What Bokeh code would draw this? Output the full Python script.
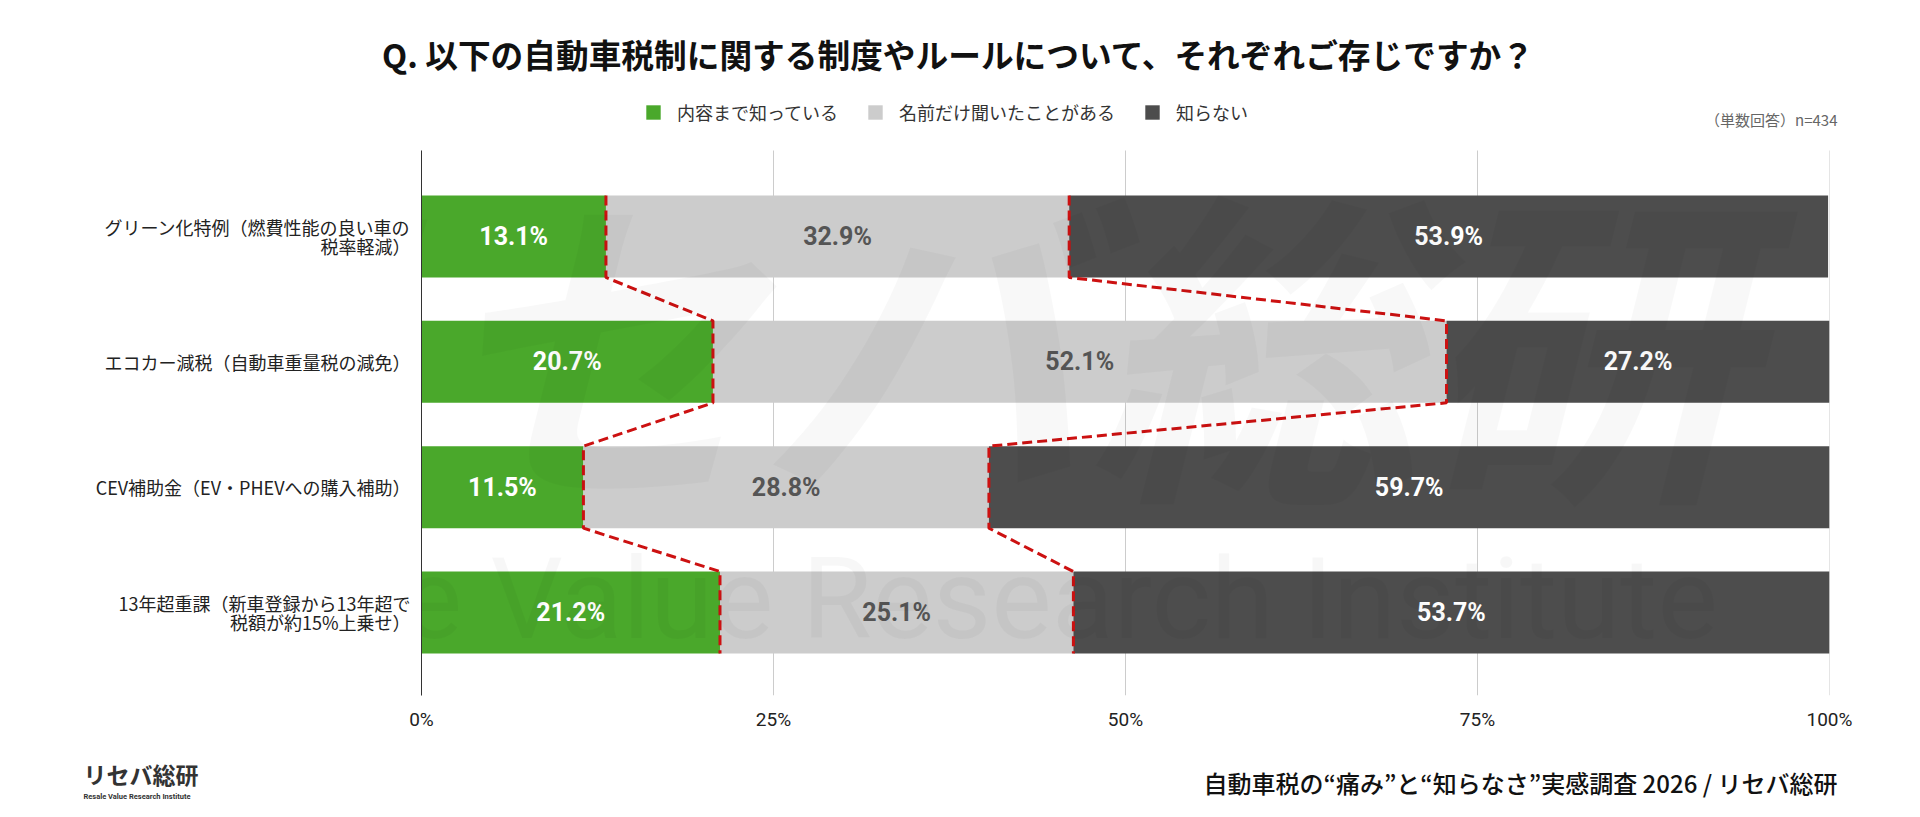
from bokeh.plotting import figure
from bokeh.models import Range1d, FixedTicker, Label, Legend, LegendItem, ColumnDataSource
from bokeh.core.properties import value
from bokeh.embed import file_html
from bokeh.resources import INLINE

# ---------------- data ----------------
categories = [
    "グリーン化特例（燃費性能の良い車の\n税率軽減）",
    "エコカー減税（自動車重量税の減免）",
    "CEV補助金（EV・PHEVへの購入補助）",
    "13年超重課（新車登録から13年超で\n税額が約15%上乗せ）",
]
know_detail = [13.1, 20.7, 11.5, 21.2]   # 内容まで知っている
name_only = [32.9, 52.1, 28.8, 25.1]     # 名前だけ聞いたことがある
dont_know = [53.9, 27.2, 59.7, 53.7]     # 知らない
series_names = ["内容まで知っている", "名前だけ聞いたことがある", "知らない"]
x_ticks = [0, 25, 50, 75, 100]
x_tick_labels = ["0%", "25%", "50%", "75%", "100%"]

title_text = "Q. 以下の自動車税制に関する制度やルールについて、それぞれご存じですか？"
note_text = "（単数回答）n=434"
footer_text = "自動車税の“痛み”と“知らなさ”実感調査 2026 / リセバ総研"
logo_text = "リセバ総研"
logo_sub = "Resale Value Research Institute"

# ---------------- style ----------------
COLORS = ["#4aa82b", "#cccccc", "#4d4d4d"]
LABEL_COLORS = ["#ffffff", "#555555", "#ffffff"]
RED = "#cc1111"
BAR_H = 0.654
JP = "Noto Sans CJK JP"
NUM = "Roboto"

W, H = 1920, 817
FL, FR = 421, 1829          # frame left / right (px)
FT = 100                    # frame top (px) - legend sits inside the frame
CT, FB = 150, 695           # top of the chart area / frame bottom (px)
Y_MIN, Y_TOP = -0.662, 3.686
UNIT = (FB - CT) / (Y_TOP - Y_MIN)
Y_MAX = Y_TOP + (CT - FT) / UNIT

n = len(categories)
ypos = [n - 1 - i for i in range(n)]


def dx(px):
    return (px - FL) / (FR - FL) * 100.0


def dy(py):
    return Y_MAX - (py - FT) / UNIT


p = figure(width=W, height=H, output_backend="svg", toolbar_location=None,
           x_range=Range1d(0, 100), y_range=Range1d(Y_MIN, Y_MAX),
           min_border_left=FL, min_border_right=W - FR,
           min_border_top=FT, min_border_bottom=H - FB)
p.title.visible = False
p.outline_line_color = None
p.background_fill_color = "white"
p.border_fill_color = "white"

# vertical grid lines (only over the chart area)
p.segment(x0=x_ticks, y0=[Y_MIN] * len(x_ticks), x1=x_ticks, y1=[Y_TOP] * len(x_ticks),
          line_color="#cccccc", line_width=1)

src = ColumnDataSource(dict(y=ypos, a=know_detail, b=name_only, c=dont_know))
rs = p.hbar_stack(["a", "b", "c"], y="y", height=BAR_H, color=COLORS,
                  line_color=None, source=src)

# segment labels
lx, ly, lt, lc = [], [], [], []
for i in range(n):
    start = 0.0
    for j, vals in enumerate([know_detail, name_only, dont_know]):
        v = vals[i]
        lx.append(start + v / 2.0)
        ly.append(ypos[i])
        lt.append(f"{v:.1f}%")
        lc.append(LABEL_COLORS[j])
        start += v
p.text(x=lx, y=ly, text=lt, text_color=lc, text_font=value(NUM),
       text_font_style="bold", text_font_size="25px",
       text_align="center", text_baseline="middle")

# red dashed connectors at the segment boundaries
b1 = know_detail
b2 = [a + b for a, b in zip(know_detail, name_only)]
for bnd in (b1, b2):
    xs, ys = [], []
    for i in range(n):
        xs += [bnd[i], bnd[i]]
        ys += [ypos[i] + BAR_H / 2, ypos[i] - BAR_H / 2]
    p.line(xs, ys, line_color=RED, line_width=3, line_dash="10 5")

# axes
p.xaxis.ticker = FixedTicker(ticks=x_ticks)
p.xaxis.major_label_overrides = {t: l for t, l in zip(x_ticks, x_tick_labels)}
p.xaxis.axis_line_color = None
p.xaxis.major_tick_line_color = None
p.xaxis.minor_tick_line_color = None
p.xaxis.major_label_text_font = NUM
p.xaxis.major_label_text_font_size = "19px"
p.xaxis.major_label_text_color = "#222222"
p.xaxis.major_label_standoff = 6

p.yaxis.ticker = FixedTicker(ticks=ypos)
p.yaxis.bounds = (Y_MIN, Y_TOP)
p.yaxis.major_label_overrides = {y: c for y, c in zip(ypos, categories)}
p.yaxis.axis_line_color = "#333333"
p.yaxis.axis_line_width = 1
p.yaxis.major_tick_line_color = None
p.yaxis.minor_tick_line_color = None
p.yaxis.major_label_text_font = JP
p.yaxis.major_label_text_font_size = "18px"
p.yaxis.major_label_text_color = "#222222"
p.yaxis.major_label_text_line_height = 0.75
p.yaxis.major_label_standoff = 5

p.xgrid.visible = False
p.ygrid.visible = False

# legend (inside the frame, above the chart area)
legend = Legend(items=[LegendItem(label=s, renderers=[r]) for s, r in zip(series_names, rs)],
                orientation="horizontal", location=(644 - FL, FB - 125),
                glyph_width=18, glyph_height=18, label_height=18,
                label_standoff=15, spacing=28, padding=0, margin=0,
                border_line_color=None, background_fill_alpha=0,
                label_text_font=JP, label_text_font_size="18px",
                label_text_color="#333333")
p.add_layout(legend)

# faint watermark
p.add_layout(Label(x=dx(923), y=dy(331), text=logo_text, text_font=JP,
                   text_font_style="bold italic", text_font_size="330px",
                   text_color="#000000", text_alpha=0.026,
                   text_align="center", text_baseline="middle"))
p.add_layout(Label(x=dx(122), y=dy(598), text=logo_sub,
                   text_font=NUM, text_font_size="114px",
                   text_color="#000000", text_alpha=0.03,
                   text_align="left", text_baseline="middle"))

# title and note (top panel, so they are not clipped by the frame)
p.add_layout(Label(x=dx(958), y=dy(53), text=title_text, text_font=JP,
                   text_font_style="bold", text_font_size="32.7px", text_color="#111111",
                   text_align="center", text_baseline="middle"), "above")
p.add_layout(Label(x=dx(1837), y=dy(119), text=note_text, text_font=JP,
                   text_font_size="15px", text_color="#666666",
                   text_align="right", text_baseline="middle"), "above")

# footer texts (bottom panel)
p.add_layout(Label(x=dx(1837), y=dy(782), text=footer_text,
                   text_font="'Noto Sans CJK JP Medium', 'Noto Sans CJK JP'",
                   text_font_size="24px", text_color="#111111",
                   text_align="right", text_baseline="middle"), "below")
p.add_layout(Label(x=dx(83), y=dy(773), text=logo_text, text_font=JP,
                   text_font_style="bold", text_font_size="23px", text_color="#333333",
                   text_align="left", text_baseline="middle"), "below")
p.add_layout(Label(x=dx(83), y=dy(796), text=logo_sub,
                   text_font=NUM, text_font_style="bold", text_font_size="7.5px",
                   text_color="#333333", text_align="left", text_baseline="middle"), "below")

open("out.html", "w").write(file_html(p, INLINE))
